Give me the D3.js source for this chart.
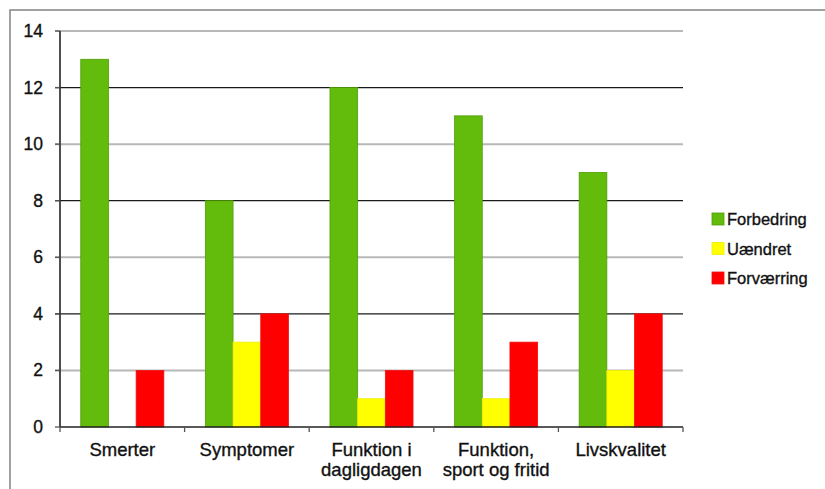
<!DOCTYPE html>
<html>
<head>
<meta charset="utf-8">
<script src="https://cdn.jsdelivr.net/npm/d3@7"></script>
<style>
  html, body { margin: 0; padding: 0; background: #fff; }
  svg { display: block; font-family: "Liberation Sans", Arial, sans-serif; }
  svg text { stroke: #111; stroke-width: 0.35px; }
</style>
</head>
<body>
<svg id="chart" width="825" height="489"></svg>
<script>
// Outcome counts per domain
const categories = [["Smerter"], ["Symptomer"], ["Funktion i", "dagligdagen"], ["Funktion,", "sport og fritid"], ["Livskvalitet"]];
const seriesNames = ["Forbedring", "Uændret", "Forværring"];
const forbedring = [13, 8, 12, 11, 9];
const uaendret = [0, 3, 1, 1, 2];
const forvaerring = [2, 4, 2, 3, 4];
const yTicks = [0, 2, 4, 6, 8, 10, 12, 14];

const seriesValues = [forbedring, uaendret, forvaerring];
const colors = ["#63bb0c", "#ffff00", "#ff0000"];
const strokes = ["#4f9e06", "#eeee00", "#f01010"];

const svg = d3.select("#chart");
const plot = { left: 60, right: 683, top: 31, bottom: 427 };

// frame around the chart
svg.append("rect")
  .attr("x", 10).attr("y", 10)
  .attr("width", 840).attr("height", 500)
  .attr("fill", "none").attr("stroke", "#8a8a8a").attr("stroke-width", 1.6);

const y = d3.scaleLinear().domain([0, 14]).range([plot.bottom, plot.top]);
const x0 = d3.scaleBand().domain(d3.range(categories.length)).range([plot.left, plot.right]).paddingInner(0).paddingOuter(0);
const x1 = d3.scaleBand().domain(d3.range(seriesNames.length))
  .range([x0.bandwidth() / 6, x0.bandwidth() * 5 / 6]);

// horizontal gridlines (alternating light and dark)
svg.append("g").selectAll("line")
  .data(yTicks.filter(t => t > 0))
  .join("line")
  .attr("x1", plot.left - 5).attr("x2", plot.right)
  .attr("y1", d => y(d)).attr("y2", d => y(d))
  .attr("stroke", d => (d % 4 === 0) ? "#1a1a1a" : "#b8b8b8")
  .attr("stroke-width", d => (d % 4 === 0) ? 1.3 : 2);

// bars
const groups = svg.append("g").selectAll("g")
  .data(categories)
  .join("g")
  .attr("transform", (d, i) => `translate(${x0(i)},0)`);

groups.each(function(cat, ci) {
  d3.select(this).selectAll("rect")
    .data(seriesValues.map((vals, si) => ({ si, v: vals[ci] })).filter(d => d.v > 0))
    .join("rect")
    .attr("x", d => x1(d.si))
    .attr("width", x1.bandwidth())
    .attr("y", d => y(d.v))
    .attr("height", d => y(0) - y(d.v))
    .attr("fill", d => colors[d.si])
    .attr("stroke", d => strokes[d.si])
    .attr("stroke-width", 0.8);
});

// y axis
const yAxis = svg.append("g");
yAxis.append("line")
  .attr("x1", plot.left).attr("x2", plot.left)
  .attr("y1", plot.top).attr("y2", plot.bottom)
  .attr("stroke", "#222").attr("stroke-width", 1.6);
yAxis.selectAll("line.tick")
  .data(yTicks)
  .join("line")
  .attr("class", "tick")
  .attr("x1", plot.left - 5).attr("x2", plot.left)
  .attr("y1", d => y(d)).attr("y2", d => y(d))
  .attr("stroke", "#555").attr("stroke-width", 1.3);
yAxis.selectAll("text")
  .data(yTicks)
  .join("text")
  .attr("x", 43).attr("y", d => y(d) + 6)
  .attr("text-anchor", "end")
  .attr("font-size", 17.5)
  .attr("fill", "#111")
  .text(d => d);

// x axis
const xAxis = svg.append("g");
xAxis.append("line")
  .attr("x1", plot.left).attr("x2", plot.right)
  .attr("y1", plot.bottom).attr("y2", plot.bottom)
  .attr("stroke", "#222").attr("stroke-width", 1.6);
xAxis.selectAll("line.tick")
  .data(d3.range(categories.length + 1))
  .join("line")
  .attr("class", "tick")
  .attr("x1", i => plot.left + i * x0.step()).attr("x2", i => plot.left + i * x0.step())
  .attr("y1", plot.bottom).attr("y2", plot.bottom + 5)
  .attr("stroke", "#555").attr("stroke-width", 1.3);
xAxis.selectAll("text")
  .data(categories)
  .join("text")
  .attr("x", (d, i) => x0(i) + x0.bandwidth() / 2)
  .attr("y", 456)
  .attr("text-anchor", "middle")
  .attr("font-size", 18.5)
  .attr("fill", "#111")
  .each(function(lines) {
    d3.select(this).selectAll("tspan")
      .data(lines)
      .join("tspan")
      .attr("x", d3.select(this).attr("x"))
      .attr("dy", (d, j) => j === 0 ? 0 : 19.5)
      .text(d => d);
  });

// legend
const legend = svg.append("g").attr("transform", "translate(712,0)");
seriesNames.forEach((name, i) => {
  const cy = 219 + i * 29.5;
  legend.append("rect")
    .attr("x", 0).attr("y", cy - 6)
    .attr("width", 12).attr("height", 12)
    .attr("fill", colors[i]).attr("stroke", strokes[i]).attr("stroke-width", 0.8);
  legend.append("text")
    .attr("x", 15).attr("y", cy + 6)
    .attr("font-size", 16.5)
    .attr("fill", "#111")
    .text(name);
});
</script>
</body>
</html>
